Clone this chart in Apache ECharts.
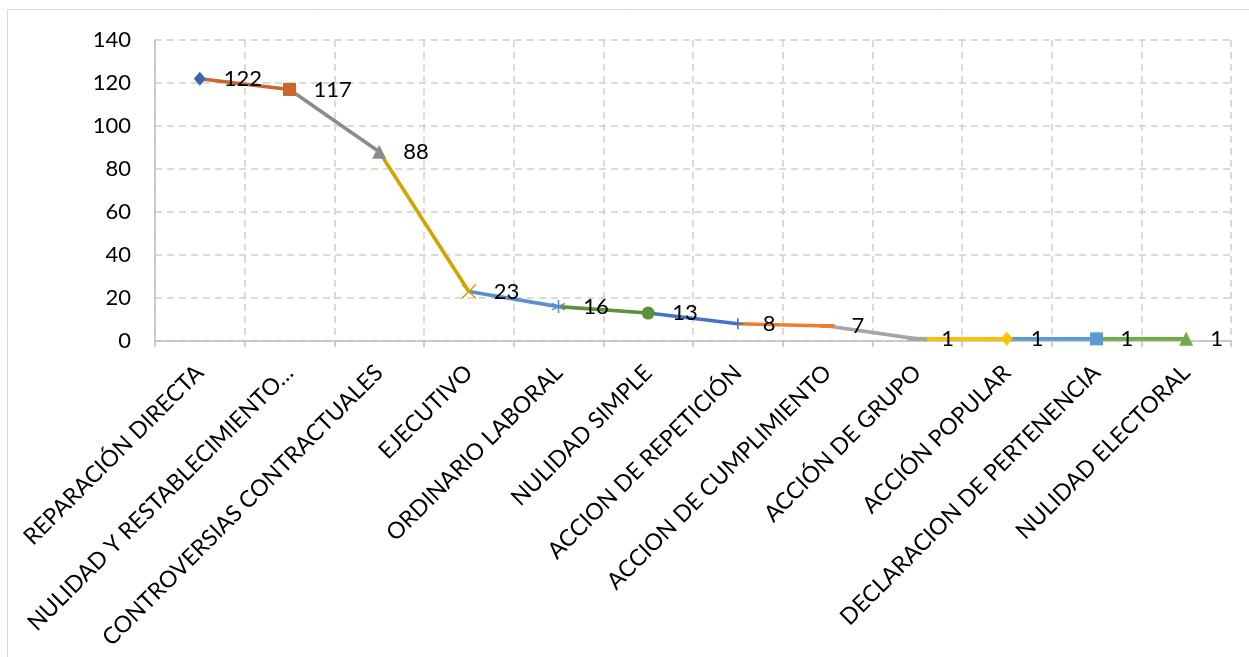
<!DOCTYPE html>
<html>
<head>
<meta charset="utf-8">
<script src="https://cdn.jsdelivr.net/npm/echarts@6/dist/echarts.min.js"></script>
<style>
html,body{margin:0;padding:0;background:#fff;}
#chart{width:1249px;height:657px;}
</style>
</head>
<body>
<div id="chart"></div>
<script>
const categories = [
  'REPARACIÓN DIRECTA',
  'NULIDAD Y RESTABLECIMIENTO…',
  'CONTROVERSIAS CONTRACTUALES',
  'EJECUTIVO',
  'ORDINARIO LABORAL',
  'NULIDAD SIMPLE',
  'ACCION DE REPETICIÓN',
  'ACCION DE CUMPLIMIENTO',
  'ACCIÓN DE GRUPO',
  'ACCIÓN POPULAR',
  'DECLARACION DE PERTENENCIA',
  'NULIDAD ELECTORAL'
];
const values = [122, 117, 88, 23, 16, 13, 8, 7, 1, 1, 1, 1];
const yTicks = [0, 20, 40, 60, 80, 100, 120, 140];

// styles (per point)
const pointColors = ['#3F62AC', '#C9662B', '#8C8C8C', '#D4A300', '#5B8FCB', '#5E913B',
                     '#4472C4', '#ED7D31', '#A5A5A5', '#FFC000', '#5B9BD5', '#70AD47'];
const symbols = ['diamond', 'rect', 'triangle',
  'path://M0,0L10,10M0,10L10,0',
  'path://M5,0L5,10M0.7,2.5L9.3,7.5M0.7,7.5L9.3,2.5',
  'circle',
  'path://M5,0L5,10M0,5L10,5',
  'rect', 'rect', 'diamond', 'rect', 'triangle'];
const symbolSizes = [[12, 14], 13, 14, 14, 13, 13, 11, [14, 4], [20, 4], [12, 14], 13, 14];
const strokeOnly = [false, false, false, true, true, false, true, false, false, false, false, false];

const font = 'Lato, "Liberation Sans", sans-serif';
const n = values.length;
const series = [];
for (let i = 1; i < n; i++) {
  series.push({
    type: 'line',
    data: values.map((v, j) => (j === i - 1 || j === i) ? v : '-'),
    symbol: 'none',
    lineStyle: { color: pointColors[i], width: 3.6 },
    z: 2,
    silent: true,
    animation: false
  });
}
series.push({
  type: 'line',
  z: 3,
  animation: false,
  lineStyle: { opacity: 0, width: 0 },
  data: values.map((v, i) => {
    const sz = symbolSizes[i];
    const w = Array.isArray(sz) ? sz[0] : sz;
    return {
      value: v,
      symbol: symbols[i],
      symbolSize: sz,
      itemStyle: strokeOnly[i]
        ? { color: pointColors[i], borderColor: pointColors[i], borderWidth: 1.6 }
        : { color: pointColors[i], borderWidth: 0 },
      label: { distance: 24 - w / 2 }
    };
  }),
  label: {
    show: true,
    position: 'right',
    fontSize: 22,
    fontFamily: font,
    color: '#000',
    formatter: '{c}'
  }
});

const chart = echarts.init(document.getElementById('chart'));
chart.setOption({
  animation: false,
  backgroundColor: '#fff',
  graphic: [{
    type: 'rect',
    shape: { x: 7.5, y: 9.5, width: 1300, height: 700 },
    style: { fill: 'none', stroke: '#D9D9D9', lineWidth: 1 },
    silent: true
  }],
  grid: { left: 155, right: 18, top: 40, bottom: 316 },
  xAxis: {
    type: 'category',
    data: categories,
    boundaryGap: true,
    axisLine: { show: true, lineStyle: { color: '#BFBFBF', width: 1.5 } },
    axisTick: { show: true, length: 6, lineStyle: { color: '#BFBFBF', width: 1.5 } },
    axisLabel: {
      interval: 0, rotate: 45, fontSize: 23, fontFamily: font, color: '#000', margin: 28
    },
    splitLine: { show: true, lineStyle: { color: '#D0D0D0', width: 1.5, type: [7, 5] } }
  },
  yAxis: {
    type: 'value',
    min: yTicks[0],
    max: yTicks[yTicks.length - 1],
    interval: yTicks[1] - yTicks[0],
    axisLine: { show: true, lineStyle: { color: '#BFBFBF', width: 1.5 } },
    axisTick: { show: false },
    axisLabel: { fontSize: 22, fontFamily: font, color: '#000', margin: 24 },
    splitLine: { show: true, lineStyle: { color: '#D0D0D0', width: 1.5, type: [7, 5] } }
  },
  series: series
});
</script>
</body>
</html>
